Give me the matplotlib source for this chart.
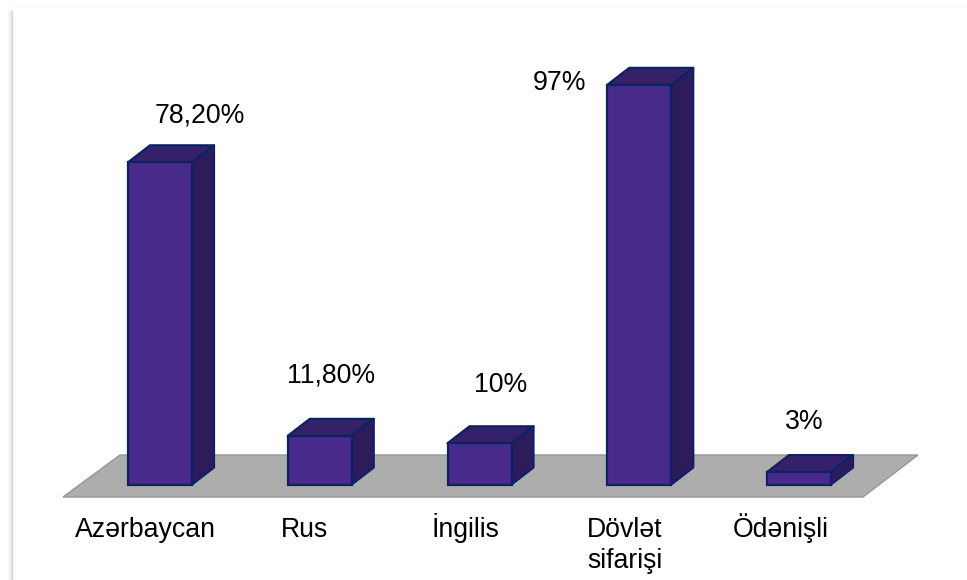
import matplotlib
matplotlib.use('Agg')
import matplotlib.pyplot as plt
from matplotlib.patches import Polygon

# Data
categories = ['Azərbaycan', 'Rus', 'İngilis', 'Dövlət\nsifarişi', 'Ödənişli']
values = [78.2, 11.8, 10, 97, 3]
value_labels = ['78,20%', '11,80%', '10%', '97%', '3%']

W, H = 967, 580
X0, DX = 160, 159.75     # pixel centre of first bar, spacing
Y0, SY = 484.5, 4.12     # pixel of zero line, pixels per percent
BAR_W = 64 / DX
DEPTH_X = 22 / DX
DEPTH_Y = 17 / SY

FACE = '#472a8a'
TOP = '#35206a'
SIDE = '#2e1b5c'
EDGE = '#0c2264'

plt.rcParams['font.family'] = ['Liberation Sans', 'DejaVu Sans']

fig = plt.figure(figsize=(W / 100, H / 100), dpi=100, facecolor='white')
ax = fig.add_axes([0, 0, 1, 1])
ax.set_xlim(-X0 / DX, (W - X0) / DX)
ax.set_ylim((Y0 - H) / SY, Y0 / SY)
ax.axis('off')


def px(x, y):
    # pixel position in the reference -> data coordinates
    return (x - X0) / DX, (Y0 - y) / SY


# soft shadow of the page edge
for x_s, a in [(7.5, 0.02), (8.5, 0.04), (9.5, 0.07), (10.5, 0.11), (11.5, 0.16)]:
    ax.plot(*zip(px(x_s, 10), px(x_s, 580)), color='black', alpha=a, lw=0.72, solid_capstyle='butt')
ax.plot(*zip(px(13, 7), px(967, 7)), color='black', alpha=0.02, lw=1.5)

# grey floor
floor = [px(63, 497), px(120, 455), px(918, 455), px(863, 497)]
ax.add_patch(Polygon(floor, closed=True, facecolor='#adadad', edgecolor='#969696', lw=1, zorder=1))

# bars with fake 3d top and side
xs = list(range(len(values)))
ax.bar(xs, values, width=BAR_W, color=FACE, edgecolor=EDGE, lw=1.6, zorder=3)
for x, v in zip(xs, values):
    l, r = x - BAR_W / 2, x + BAR_W / 2
    top = [(l, v), (r, v), (r + DEPTH_X, v + DEPTH_Y), (l + DEPTH_X, v + DEPTH_Y)]
    side = [(r, 0), (r + DEPTH_X, DEPTH_Y), (r + DEPTH_X, v + DEPTH_Y), (r, v)]
    ax.add_patch(Polygon(top, closed=True, facecolor=TOP, edgecolor=EDGE, lw=1.6, joinstyle='round', zorder=2))
    ax.add_patch(Polygon(side, closed=True, facecolor=SIDE, edgecolor=EDGE, lw=1.6, joinstyle='round', zorder=2))

# value labels
label_pos = [(200, 122), (331, 382), (501, 392), (559, 90), (804, 429)]
for txt, (x, y) in zip(value_labels, label_pos):
    ax.text(*px(x, y), txt, fontsize=19.2, ha='center', va='baseline', color='black', zorder=5)

# category labels
cat_pos = [(75, 537), (281, 537), (432, 537), (587, 537), (733, 537)]
for txt, (x, y) in zip(categories, cat_pos):
    lines = txt.split('\n')
    for i, line in enumerate(lines):
        ax.text(*px(x, y + i * 31.5), line, fontsize=19.2, ha='left', va='baseline', color='black', zorder=5)

fig.savefig('out.png', dpi=100, facecolor='white')
